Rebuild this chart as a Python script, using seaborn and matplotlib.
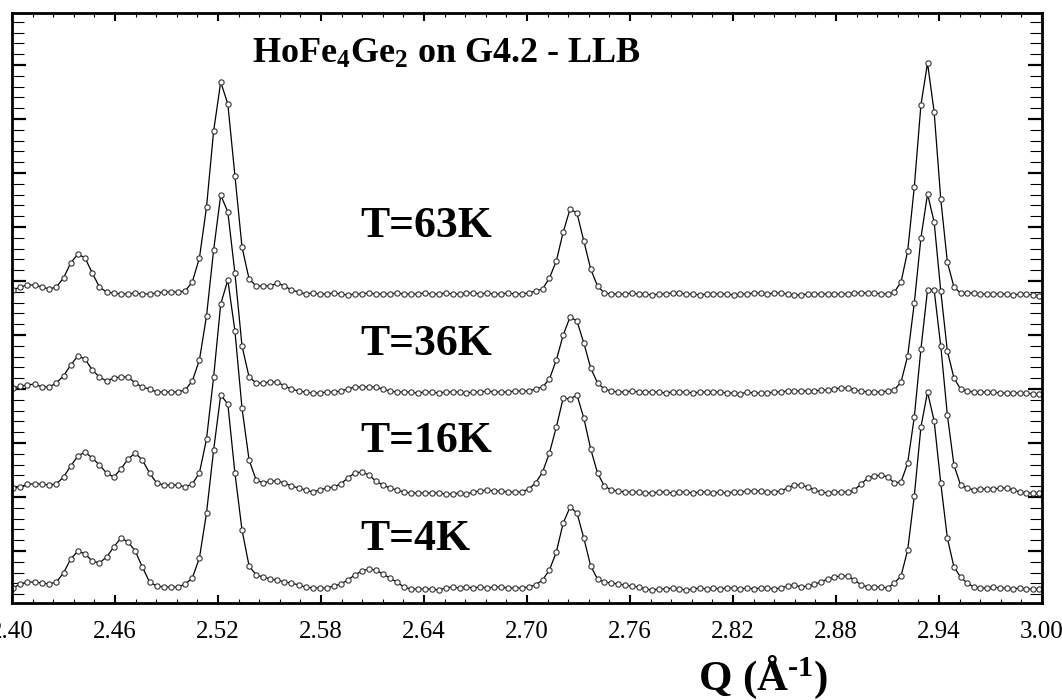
import numpy as np
import pandas as pd
import matplotlib
matplotlib.use("Agg")
import matplotlib.pyplot as plt
import seaborn as sns
from matplotlib.ticker import FixedLocator, FormatStrFormatter

# scan grid of the diffractometer (constant 2-theta step)
WAVELENGTH = 2.6          # Angstrom
TWO_THETA_START = 59.5626  # deg
TWO_THETA_STEP = 0.114924  # deg
N_POINTS = 151

temperatures = ["T=4K", "T=16K", "T=36K", "T=63K"]
offsets = [17, 118, 211, 309]

# intensities above each curve's baseline, one value per scan point
i_4k = [
    -2, 2, 4, 4, 3, 2, 4, 13, 27, 35,
    32, 25, 23, 29, 39, 48, 44, 35, 19, 4,
    0, -1, -1, -1, 2, 8, 28, 73, 136, 191,
    182, 113, 56, 20, 11, 9, 7, 6, 4, 3,
    1, -1, -2, -2, -2, 0, 2, 6, 11, 15,
    17, 16, 12, 8, 4, -1, -3, -3, -3, -3,
    -4, -2, -1, -2, -1, -2, -1, -2, -1, -1,
    -2, -2, -2, -1, 1, 6, 16, 34, 63, 79,
    73, 48, 20, 7, 4, 3, 2, 1, 0, -1,
    -3, -4, -3, -3, -2, -3, -4, -3, -2, -3,
    -2, -3, -2, -2, -3, -2, -3, -2, -2, -3,
    -2, 0, 1, -1, 0, 2, 4, 7, 9, 10,
    10, 6, 1, -1, -1, -1, -2, 3, 10, 36,
    90, 159, 194, 165, 103, 48, 19, 9, 3, -1,
    -2, -2, -1, -2, -2, -3, -2, -3, -3, -3, -3,
]
i_16k = [
    -3, -2, 1, 1, 1, 0, 1, 8, 19, 29,
    33, 27, 20, 12, 8, 16, 26, 32, 25, 12,
    2, 0, 0, 0, -2, 1, 12, 46, 108, 181,
    205, 154, 77, 25, 5, 2, 4, 4, 2, -1,
    -3, -5, -7, -5, -3, -2, 1, 7, 12, 13,
    10, 4, 0, -3, -5, -7, -8, -8, -8, -8,
    -8, -9, -9, -8, -9, -7, -6, -5, -6, -6,
    -7, -7, -7, -4, 2, 13, 32, 58, 87, 86,
    90, 67, 36, 12, -1, -5, -6, -7, -7, -7,
    -8, -8, -7, -7, -8, -7, -7, -8, -7, -7,
    -8, -7, -8, -7, -7, -6, -6, -6, -7, -7,
    -6, -3, 0, 0, -2, -5, -7, -8, -7, -7,
    -7, -5, 1, 7, 9, 10, 8, 2, 3, 22,
    68, 136, 195, 195, 139, 70, 20, 0, -3, -5,
    -4, -4, -4, -3, -3, -5, -7, -8, -8, -8, -8,
]
i_36k = [
    4, 6, 7, 8, 5, 5, 9, 16, 27, 36,
    33, 22, 15, 11, 14, 15, 15, 9, 5, 3,
    0, 0, 0, 0, 2, 11, 32, 76, 142, 197,
    180, 119, 46, 15, 9, 9, 10, 10, 6, 3,
    1, 0, -1, -1, 0, 0, 1, 3, 5, 5,
    5, 5, 3, 1, 0, 0, 0, -1, 0, 0,
    -1, 0, 0, 0, -1, 0, 0, 1, 0, 0,
    0, 1, 1, 1, 3, 5, 13, 32, 57, 75,
    71, 49, 24, 9, 3, 1, 0, 0, 1, 0,
    0, 0, 0, -1, 0, 0, 0, -1, 0, 0,
    0, 0, -1, -1, -2, 0, -1, -1, -1, 0,
    0, 1, 1, 1, 1, 1, 2, 2, 3, 4,
    4, 2, 1, 0, 0, 0, 1, 2, 10, 36,
    89, 154, 198, 170, 101, 41, 14, 3, 1, 0,
    0, 0, 0, -1, -1, -1, -1, -1, -2, -2, -2,
]
i_63k = [
    4, 7, 9, 9, 7, 5, 7, 16, 31, 40,
    36, 21, 7, 2, 1, 0, 0, 1, 0, 0,
    1, 2, 2, 2, 3, 12, 36, 87, 163, 212,
    190, 118, 47, 15, 8, 8, 8, 11, 8, 4,
    2, 0, 1, 0, 0, 1, 0, -1, 0, 0,
    1, 0, 0, 0, 1, 0, 0, 0, 1, 0,
    0, 1, 0, 0, 1, 1, 0, 1, 0, 0,
    1, 0, 0, 1, 3, 5, 16, 33, 62, 85,
    81, 53, 25, 8, 1, 0, 0, 0, 1, 0,
    0, -1, 0, 0, 1, 1, 0, 0, -1, 0,
    0, 0, 0, -1, 0, 0, 1, 1, 0, 1,
    1, 0, -1, -1, 0, 0, 0, 0, 0, 0,
    0, 1, 1, 1, 1, 0, 0, 2, 12, 43,
    107, 189, 231, 182, 95, 32, 7, 1, 1, 1,
    0, 0, 0, 0, 0, -1, 0, 0, -1, -2, -1,
]

label_y = [53, 151, 248, 366]

two_theta = TWO_THETA_START + TWO_THETA_STEP * np.arange(N_POINTS)
q = 4 * np.pi / WAVELENGTH * np.sin(np.radians(two_theta / 2))

frames = []
for t, off, vals in zip(temperatures, offsets, [i_4k, i_16k, i_36k, i_63k]):
    frames.append(pd.DataFrame({"Q": q, "counts": np.array(vals) + off, "T": t}))
df = pd.concat(frames, ignore_index=True)

sns.set_style("ticks")
plt.rcParams["font.family"] = ["Liberation Serif", "DejaVu Serif"]
plt.rcParams["text.color"] = "black"
plt.rcParams["axes.edgecolor"] = "black"
plt.rcParams["xtick.color"] = "black"
plt.rcParams["ytick.color"] = "black"
plt.rcParams["mathtext.fontset"] = "custom"
plt.rcParams["mathtext.rm"] = "Liberation Serif:bold"
plt.rcParams["mathtext.it"] = "Liberation Serif:bold"
plt.rcParams["mathtext.bf"] = "Liberation Serif:bold"
plt.rcParams["mathtext.default"] = "rm"

fig = plt.figure(figsize=(10.62, 7.0), dpi=100)
ax = fig.add_axes([12 / 1062, 1 - 603 / 700, 1030 / 1062, 590 / 700])

sns.lineplot(
    data=df, x="Q", y="counts", units="T", estimator=None, ax=ax,
    color="black", linewidth=0.9, marker="o", markersize=3.8,
    markerfacecolor="white", markeredgecolor="#333333", markeredgewidth=0.8,
)

ax.set_xlim(2.40, 3.00)
ax.set_ylim(0, 590)
ax.set_xlabel("")
ax.set_ylabel("")

ax.xaxis.set_major_locator(FixedLocator(np.round(np.arange(2.40, 3.001, 0.06), 2)))
ax.xaxis.set_minor_locator(FixedLocator(np.arange(2.40, 3.001, 0.012)))
ax.xaxis.set_major_formatter(FormatStrFormatter("%.2f"))
ax.yaxis.set_major_locator(FixedLocator(np.arange(-2, 591, 54)))
ax.yaxis.set_minor_locator(FixedLocator(np.arange(-2, 591, 10.8)))

ax.tick_params(axis="x", which="major", direction="in", top=True, bottom=True,
               length=5.5, width=1.5, labelsize=18, pad=13, labelcolor="black")
ax.tick_params(axis="x", which="minor", direction="in", top=True, bottom=True,
               length=3, width=0.8)
ax.tick_params(axis="y", which="major", direction="in", left=True, right=True,
               length=10, width=1.6, labelleft=False)
ax.tick_params(axis="y", which="minor", direction="in", left=True, right=True,
               length=8.4, width=0.8)
for s in ax.spines.values():
    s.set_linewidth(2)
    s.set_color("black")

for t, y in zip(temperatures, label_y):
    ax.text(2.6027, y, t, fontsize=31.5, fontweight="bold", color="black",
            va="baseline", ha="left")

ax.text(0.233, 0.915, "HoFe$_4$Ge$_2$ on G4.2 - LLB", transform=ax.transAxes,
        fontsize=26, fontweight="bold", color="black", va="baseline", ha="left")

fig.text(698 / 1062, 1 - 690 / 700, r"Q (Å$^{\text{-}1}$)", fontsize=31,
         fontweight="bold", color="black", va="baseline", ha="left")

fig.savefig("out.png", dpi=100, facecolor="white")
